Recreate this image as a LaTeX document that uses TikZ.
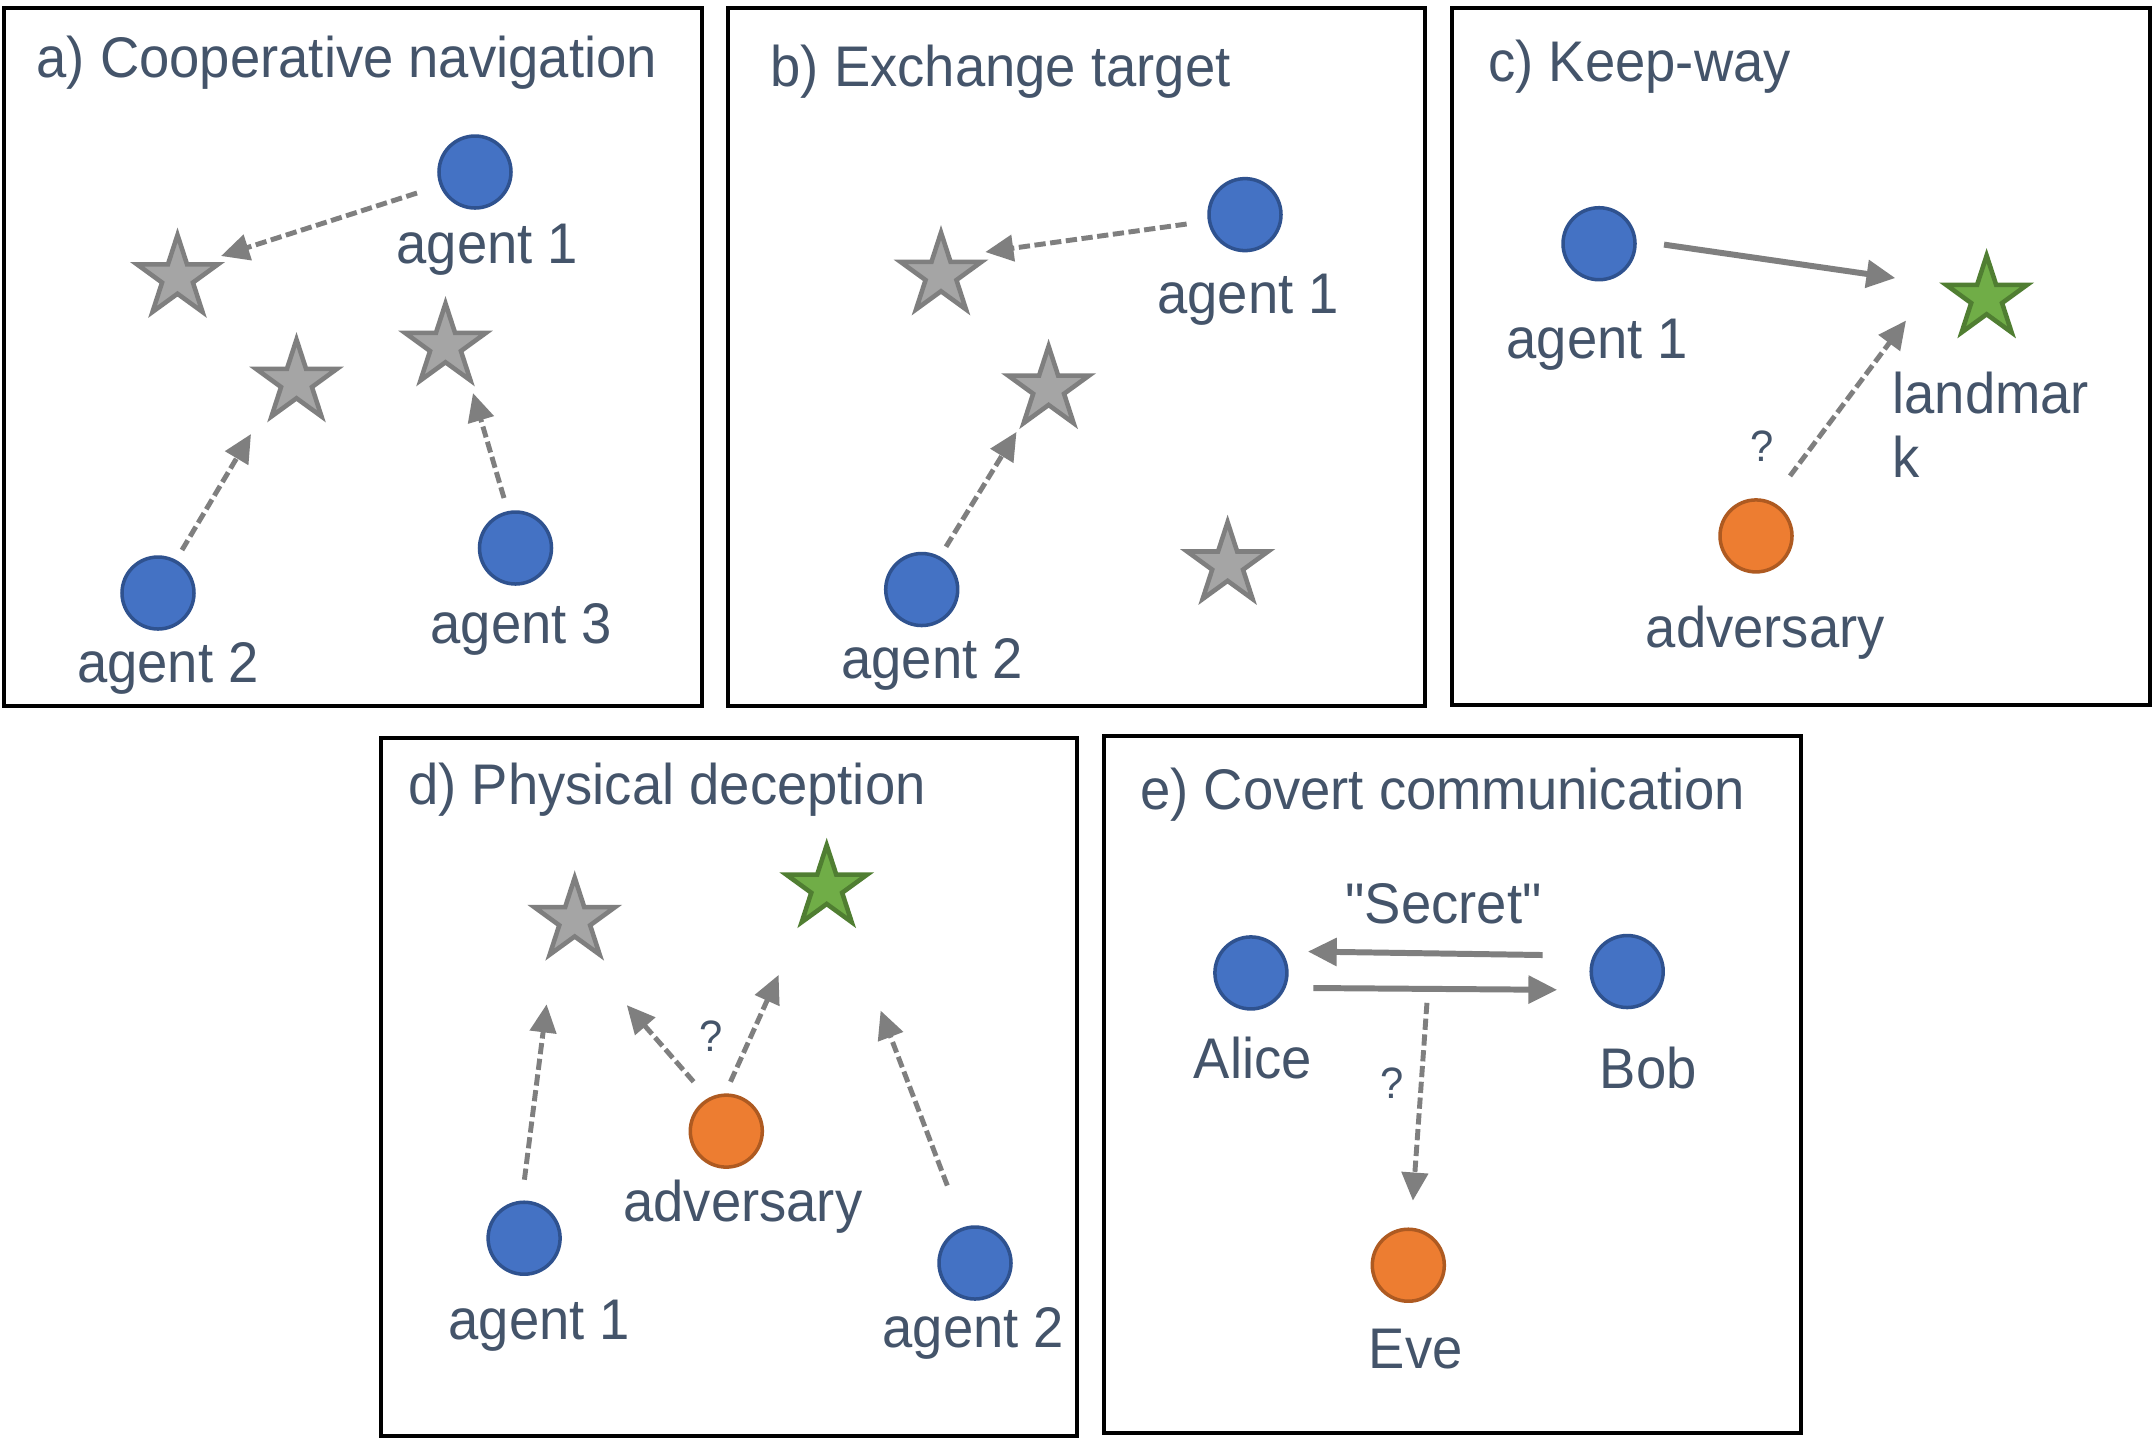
\documentclass[tikz,border=0pt]{standalone}
\usepackage{fontspec}
\setmainfont[FakeStretch=0.95, Ligatures=TeXOff]{Liberation Sans}
\usetikzlibrary{shapes.geometric, arrows.meta, positioning}

\definecolor{agentfill}{HTML}{4472C4}
\definecolor{agentline}{HTML}{2F528F}
\definecolor{advfill}{HTML}{ED7D31}
\definecolor{advline}{HTML}{AE5A21}
\definecolor{goalfill}{HTML}{A5A5A5}
\definecolor{goalline}{HTML}{7F7F7F}
\definecolor{lmfill}{HTML}{70AD47}
\definecolor{lmline}{HTML}{507E32}
\definecolor{txt}{HTML}{44546A}
\definecolor{arr}{HTML}{7F7F7F}

\begin{document}
\begin{tikzpicture}[
  agent/.style={circle, draw=agentline, fill=agentfill, line width=1pt, minimum size=0.72cm, inner sep=0pt},
  adv/.style={agent, draw=advline, fill=advfill},
  goal/.style={star, star points=5, star point ratio=2.618, draw=goalline, fill=goalfill, line width=1.3pt, minimum size=0.85cm, inner sep=0pt},
  landmark/.style={goal, draw=lmline, fill=lmfill},
  lbl/.style={text=txt, font=\fontsize{16.3}{18.4}\selectfont, inner sep=0pt, anchor=base},
  ttl/.style={lbl, anchor=base west},
  qm/.style={lbl, font=\fontsize{12.5}{14}\selectfont},
  panel/.style={draw=black, line width=1.3pt},
  move/.style={draw=arr, line width=1.7pt, -{Triangle[length=8.2pt, width=7.7pt]}},
  guess/.style={draw=arr, line width=1.4pt, dash pattern=on 3.2pt off 1.3pt, -{Triangle[length=8pt, width=7.4pt]}}]

\path[use as bounding box, fill=white] (0,0) rectangle (21.54,-14.39);

% a) Cooperative navigation
\draw[panel] (0.04,-0.08) rectangle (7.02,-7.06);
\node[ttl] (ta) at (0.36,-0.77) {a) Cooperative navigation};
\node[agent] (na1) at (4.75,-1.72) {};
\node[agent] (na2) at (1.58,-5.93) {};
\node[agent] (na3) at (5.155,-5.48) {};
\node[goal] (ga1) at (1.775,-2.775) {};
\node[goal] (ga2) at (2.965,-3.82) {};
\node[goal] (ga3) at (4.455,-3.46) {};
\node[lbl] (la1) at (4.875,-2.63) {agent 1};
\node[lbl] (la2) at (1.68,-6.82) {agent 2};
\node[lbl] (la3) at (5.215,-6.43) {agent 3};
\draw[guess] ([shift={(-0.58,-0.21)}]na1.center) -- ([shift={(0.435,0.215)}]ga1.center);
\draw[guess] ([shift={(0.24,0.43)}]na2.center) -- ([shift={(-0.455,-0.52)}]ga2.center);
\draw[guess] ([shift={(-0.115,0.50)}]na3.center) -- ([shift={(0.275,-0.47)}]ga3.center);

% b) Exchange target
\draw[panel] (7.28,-0.08) rectangle (14.25,-7.06);
\node[ttl] (tb) at (7.70,-0.86) {b) Exchange target};
\node[agent] (nb1) at (12.45,-2.146) {};
\node[agent] (nb2) at (9.217,-5.895) {};
\node[goal] (gb1) at (9.41,-2.75) {};
\node[goal] (gb2) at (10.486,-3.887) {};
\node[goal] (gb3) at (12.276,-5.646) {};
\node[lbl] (lb1) at (12.48,-3.13) {agent 1};
\node[lbl] (lb2) at (9.32,-6.78) {agent 2};
\draw[guess] ([shift={(-0.584,-0.094)}]nb1.center) -- ([shift={(0.443,0.23)}]gb1.center);
\draw[guess] ([shift={(0.243,0.428)}]nb2.center) -- ([shift={(-0.321,-0.432)}]gb2.center);

% c) Keep-way
\draw[panel] (14.52,-0.08) rectangle (21.50,-7.05);
\node[ttl] (tc) at (14.877,-0.817) {c) Keep-way};
\node[agent] (nc1) at (15.99,-2.437) {};
\node[adv] (nc2) at (17.56,-5.359) {};
\node[landmark] (gc1) at (19.866,-2.98) {};
\node[lbl] (lc1) at (15.975,-3.584) {agent 1};
\node[lbl] (lc2) at (17.652,-6.473) {adversary};
\node[lbl, anchor=north west, align=left] (lc3) at (18.917,-3.71) {landmar\\k};
\node[qm] (qc) at (17.618,-4.61) {?};
\draw[move] ([shift={(0.65,-0.009)}]nc1.center) -- ([shift={(-0.913,0.20)}]gc1.center);
\draw[guess] ([shift={(0.34,0.60)}]nc2.center) -- ([shift={(-0.806,-0.225)}]gc1.center);

% d) Physical deception
\draw[panel] (3.81,-7.38) rectangle (10.77,-14.36);
\node[ttl] (td) at (4.077,-8.048) {d) Physical deception};
\node[goal] (gd1) at (5.747,-9.202) {};
\node[landmark] (gd2) at (8.267,-8.877) {};
\node[adv] (nd0) at (7.263,-11.311) {};
\node[agent] (nd1) at (5.241,-12.382) {};
\node[agent] (nd2) at (9.75,-12.63) {};
\node[lbl] (ld0) at (7.428,-12.21) {adversary};
\node[lbl] (ld1) at (5.393,-13.39) {agent 1};
\node[lbl] (ld2) at (9.734,-13.47) {agent 2};
\node[qm] (qd) at (7.114,-10.519) {?};
\draw[guess] ([shift={(0.003,0.585)}]nd1.center) -- ([shift={(-0.281,-0.841)}]gd1.center);
\draw[guess] ([shift={(-0.327,0.494)}]nd0.center) -- ([shift={(0.521,-0.849)}]gd1.center);
\draw[guess] ([shift={(0.042,0.494)}]nd0.center) -- ([shift={(-0.481,-0.872)}]gd2.center);
\draw[guess] ([shift={(-0.277,0.775)}]nd2.center) -- ([shift={(0.539,-1.228)}]gd2.center);

% e) Covert communication
\draw[panel] (11.04,-7.36) rectangle (18.01,-14.33);
\node[ttl] (te) at (11.396,-8.095) {e) Covert communication};
\node[agent] (alice) at (12.509,-9.729) {};
\node[agent] (bob) at (16.272,-9.715) {};
\node[adv] (eve) at (14.083,-12.652) {};
\node[lbl] (lalice) at (12.529,-10.788) {Alice};
\node[lbl] (lbob) at (16.483,-10.886) {Bob};
\node[lbl] (leve) at (14.157,-13.682) {Eve};
\node[lbl] (msg) at (14.435,-9.23) {"Secret"};
\node[qm] (qe) at (13.925,-10.989) {?};
\draw[move] ([shift={(-0.846,0.165)}]bob.center) -- ([shift={(0.57,0.214)}]alice.center);
\draw[move] ([shift={(0.624,-0.151)}]alice.center) -- ([shift={(-0.70,-0.183)}]bob.center) coordinate[pos=0.47] (leak);
\draw[guess, shorten <=0.14cm, shorten >=0.27cm] (leak) -- (eve);
\end{tikzpicture}
\end{document}
